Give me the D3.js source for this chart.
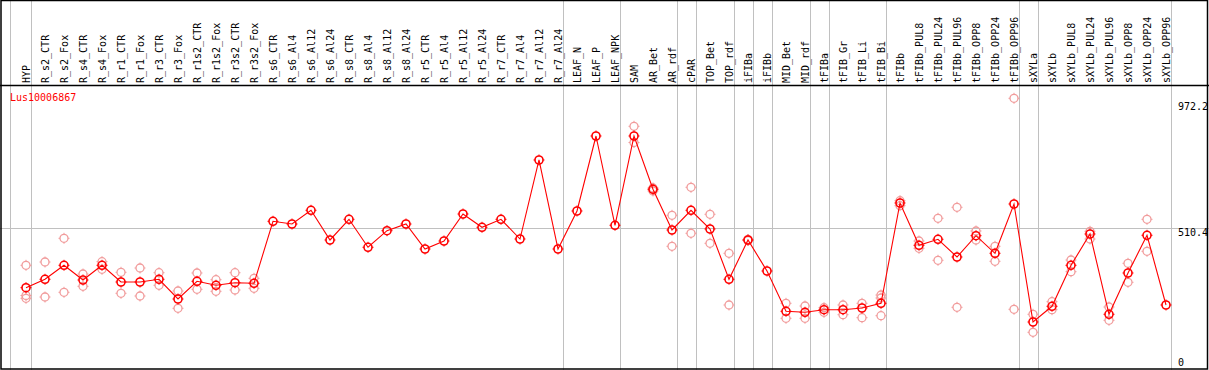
<!DOCTYPE html>
<html>
<head>
<meta charset="utf-8">
<script src="https://cdn.jsdelivr.net/npm/d3@7"></script>
<style>
  body { margin: 0; background: #fff; }
  svg { display: block; }
  text { font-family: "DejaVu Sans Mono", monospace; font-size: 10px; }
</style>
</head>
<body>
<svg class="chart" width="1209" height="370"></svg>
<script>
const geneName = `Lus10006867`;

const samples = [`HYP`, `R_s2_CTR`, `R_s2_Fox`, `R_s4_CTR`, `R_s4_Fox`, `R_r1_CTR`, `R_r1_Fox`, `R_r3_CTR`, `R_r3_Fox`,
  `R_r1s2_CTR`, `R_r1s2_Fox`, `R_r3s2_CTR`, `R_r3s2_Fox`, `R_s6_CTR`, `R_s6_Al4`, `R_s6_Al12`, `R_s6_Al24`,
  `R_s8_CTR`, `R_s8_Al4`, `R_s8_Al12`, `R_s8_Al24`, `R_r5_CTR`, `R_r5_Al4`, `R_r5_Al12`, `R_r5_Al24`,
  `R_r7_CTR`, `R_r7_Al4`, `R_r7_Al12`, `R_r7_Al24`, `LEAF_N`, `LEAF_P`, `LEAF_NPK`, `SAM`, `AR_Bet`, `AR_rdf`,
  `cPAR`, `TOP_Bet`, `TOP_rdf`, `iFIBa`, `iFIBb`, `MID_Bet`, `MID_rdf`, `tFIBa`, `tFIB_Gr`, `tFIB_Li`, `tFIB_Bi`,
  `tFIBb`, `tFIBb_PUL8`, `tFIBb_PUL24`, `tFIBb_PUL96`, `tFIBb_OPP8`, `tFIBb_OPP24`, `tFIBb_OPP96`,
  `sXYLa`, `sXYLb`, `sXYLb_PUL8`, `sXYLb_PUL24`, `sXYLb_PUL96`, `sXYLb_OPP8`, `sXYLb_OPP24`, `sXYLb_OPP96`];

// last sample of every tissue group (grey separator drawn after it)
const groupEnds = [`HYP`, `R_r7_Al24`, `LEAF_NPK`, `AR_rdf`, `cPAR`, `TOP_rdf`, `iFIBa`, `iFIBb`,
  `MID_rdf`, `tFIBa`, `tFIB_Bi`, `tFIBb_OPP96`, `sXYLa`, `sXYLb_OPP96`];

const means = [299.5, 329.3, 379.0, 326.8, 379.0, 319.7, 319.7, 329.3, 259.3, 322.2, 308.0, 317.2, 315.1,
  535.3, 525.7, 574.4, 468.9, 542.4, 443.0, 501.9, 525.7, 436.9, 465.3, 561.2, 514.0, 542.4, 472.4, 753.1, 436.9,
  571.9, 838.3, 521.1, 838.3, 649.0, 504.4, 574.4, 508.0, 329.3, 468.9, 358.8, 215.6, 212.1, 221.3, 221.3, 227.3,
  244.0, 600.3, 450.1, 471.4, 408.5, 484.2, 421.6, 596.8, 177.6, 233.4, 379.0, 490.2, 205.0, 351.7, 485.6, 238.0];

const replicates = [
  [379.0, 271.7, 261.8], [390.7, 266.4], [474.9, 283.1], [348.1, 304.4], [391.8, 364.8], [354.2, 279.6],
  [369.4, 270.0], [352.7, 308.0], [287.7, 226.3], [351.7, 293.8], [327.9, 286.7], [352.7, 291.3], [332.8, 297.3],
  [], [], [], [], [], [], [], [], [], [], [], [], [], [], [], [], [], [], [],
  [872.8, 815.2], [653.6, 643.0], [556.6, 446.5], [656.1, 492.7], [560.2, 457.2], [421.6, 238.0],
  [470.7, 467.0], [], [244.0, 190.8], [234.4, 190.8], [228.4, 212.1], [238.0, 203.5], [244.0, 192.9],
  [273.5, 262.9, 200.0], [608.5, 590.7], [465.3, 439.4], [546.0, 396.8], [585.0, 229.8], [500.9, 468.9],
  [446.5, 393.2], [972.2, 222.7], [205.0, 141.0], [249.7, 221.3], [397.8, 356.3], [499.8, 472.4],
  [230.9, 183.6], [386.1, 318.6], [542.4, 428.8], []];

const yTicks = [972.2, 510.4, 0];

const width = 1209;
const height = 370;
const headerY = 85;

const svg = d3.select(`.chart`);

const x = d3.scalePoint()
  .domain(samples)
  .range([26, 26 + 19 * (samples.length - 1)]);

const y = d3.scaleLinear()
  .domain([0, 972.2])
  .range([372, 98.3]);

// grey separators
svg.append(`line`)
  .attr(`x1`, 10.5).attr(`x2`, 10.5)
  .attr(`y1`, 0).attr(`y2`, height)
  .attr(`stroke`, `#c0c0c0`);

svg.selectAll(`.sep`)
  .data(groupEnds)
  .enter().append(`line`)
  .attr(`class`, `sep`)
  .attr(`x1`, d => Math.round(x(d) + 4.7) + .5)
  .attr(`x2`, d => Math.round(x(d) + 4.7) + .5)
  .attr(`y1`, 0)
  .attr(`y2`, height)
  .attr(`stroke`, `#c0c0c0`);

// middle grid line
svg.append(`line`)
  .attr(`x1`, 0).attr(`x2`, width)
  .attr(`y1`, Math.round(y(510.4)) + .5)
  .attr(`y2`, Math.round(y(510.4)) + .5)
  .attr(`stroke`, `#c0c0c0`);

// frame
svg.append(`rect`)
  .attr(`x`, 1).attr(`y`, .5)
  .attr(`width`, width - 2.5).attr(`height`, height - 1.5)
  .attr(`fill`, `none`)
  .attr(`stroke`, `black`)
  .attr(`stroke-width`, 1.5);

svg.append(`line`)
  .attr(`x1`, 0).attr(`x2`, width)
  .attr(`y1`, headerY + .5).attr(`y2`, headerY + .5)
  .attr(`stroke`, `black`)
  .attr(`stroke-width`, 1.5);

// sample labels
svg.selectAll(`.label`)
  .data(samples)
  .enter().append(`text`)
  .attr(`class`, `label`)
  .attr(`transform`, d => `translate(${x(d) + 3.5},${headerY - 2}) rotate(-90)`)
  .attr(`fill`, `black`)
  .text(d => d);

// y labels
svg.selectAll(`.ytick`)
  .data(yTicks)
  .enter().append(`text`)
  .attr(`class`, `ytick`)
  .attr(`x`, 1178)
  .attr(`y`, d => Math.min(Math.max(y(d), 103), 359))
  .attr(`dominant-baseline`, `hanging`)
  .attr(`fill`, `black`)
  .text(d => d);

svg.append(`text`)
  .attr(`x`, 10)
  .attr(`y`, 101)
  .attr(`fill`, `red`)
  .text(geneName);

const ticks = `M0,-5.5V-4M0,4V5.5M-5.5,0H-4M4,0H5.5`;

const marker = (sel, color, sw) => {
  sel.append(`circle`)
    .attr(`r`, 4)
    .attr(`fill`, `none`)
    .attr(`stroke`, color)
    .attr(`stroke-width`, sw);
  sel.append(`path`)
    .attr(`d`, ticks)
    .attr(`stroke`, color)
    .attr(`stroke-width`, 1);
};

// replicate points
const reps = [];
replicates.forEach((r, i) => r.forEach(v => reps.push({sample: samples[i], value: v})));

svg.selectAll(`.rep`)
  .data(reps)
  .enter().append(`g`)
  .attr(`class`, `rep`)
  .attr(`transform`, d => `translate(${x(d.sample)},${y(d.value)})`)
  .call(marker, `#f19c9c`, 1.3);

// mean line
const line = d3.line()
  .x((d, i) => x(samples[i]))
  .y(d => y(d));

svg.append(`path`)
  .datum(means)
  .attr(`d`, line)
  .attr(`fill`, `none`)
  .attr(`stroke`, `red`)
  .attr(`stroke-width`, 1.1);

svg.selectAll(`.mean`)
  .data(means)
  .enter().append(`g`)
  .attr(`class`, `mean`)
  .attr(`transform`, (d, i) => `translate(${x(samples[i])},${y(d)})`)
  .call(marker, `red`, 1.6);
</script>
</body>
</html>
